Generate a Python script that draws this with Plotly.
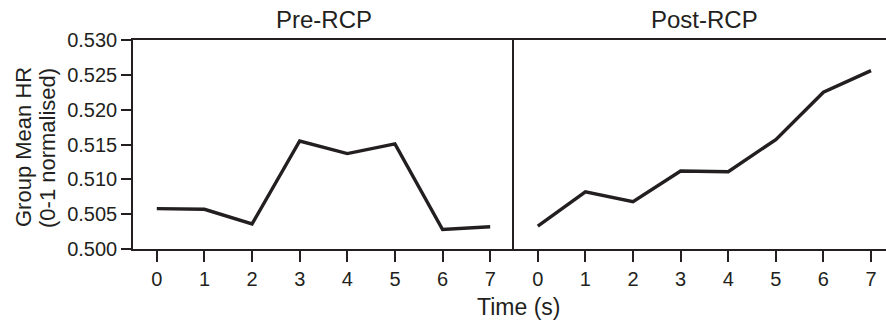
import plotly.graph_objects as go

time_ticks = [0, 1, 2, 3, 4, 5, 6, 7]
pre_rcp = [0.5058, 0.5057, 0.5036, 0.5155, 0.5137, 0.5151, 0.5028, 0.5032]
post_rcp = [0.5033, 0.5082, 0.5068, 0.5112, 0.5111, 0.5157, 0.5225, 0.5256]
y_ticks = [0.500, 0.505, 0.510, 0.515, 0.520, 0.525, 0.530]
panel_titles = ["Pre-RCP", "Post-RCP"]
y_title_lines = ["Group Mean HR", "(0-1 normalised)"]

INK = "#231f20"
FONT = "Liberation Sans, Arial, sans-serif"

W, H = 886, 320
ML, MR, MT, MB = 133, 0, 40, 71
plot_w = W - ML - MR
plot_h = H - MT - MB
split = 381 / plot_w

fig = go.Figure()
fig.add_trace(go.Scatter(x=time_ticks, y=pre_rcp, mode="lines",
                         line=dict(color=INK, width=3.4), xaxis="x", yaxis="y",
                         showlegend=False))
fig.add_trace(go.Scatter(x=time_ticks, y=post_rcp, mode="lines",
                         line=dict(color=INK, width=3.4), xaxis="x2", yaxis="y2",
                         showlegend=False))

xcommon = dict(
    tickmode="array", tickvals=time_ticks, ticktext=[str(t) for t in time_ticks],
    ticks="outside", ticklen=11, tickwidth=1.5, tickcolor=INK,
    showline=True, linecolor=INK, linewidth=1.5, mirror=True,
    showgrid=False, zeroline=False,
    tickfont=dict(family=FONT, size=20, color=INK),
)

def px_x(p):
    return (p - ML) / plot_w

def px_y(p):
    return (H - MB - p) / plot_h

fig.update_layout(
    width=W, height=H,
    margin=dict(l=ML, r=MR, t=MT, b=MB),
    plot_bgcolor="white", paper_bgcolor="white",
    xaxis=dict(domain=[0, split], range=[-0.5, 7.5], **xcommon),
    xaxis2=dict(domain=[split, 1], range=[-0.5, 7.315], anchor="y2", **xcommon),
    yaxis=dict(range=[0.5, 0.53], tickmode="array", tickvals=y_ticks,
               ticktext=[f"{v:.3f}" for v in y_ticks],
               ticks="outside", ticklen=10, tickwidth=1.5, tickcolor=INK,
               showline=True, linecolor=INK, linewidth=1.5,
               showgrid=False, zeroline=False,
               tickfont=dict(family=FONT, size=20, color=INK)),
    yaxis2=dict(range=[0.5, 0.53], anchor="x2", showline=True, linecolor=INK,
                linewidth=1.5, showticklabels=False, ticks="",
                showgrid=False, zeroline=False),
    annotations=[
        dict(text=panel_titles[0], xref="paper", yref="paper",
             x=split / 2, y=px_y(20), yanchor="middle", xanchor="center",
             showarrow=False, font=dict(family=FONT, size=24, color=INK)),
        dict(text=panel_titles[1], xref="paper", yref="paper",
             x=px_x(704), y=px_y(20), yanchor="middle", xanchor="center",
             showarrow=False, font=dict(family=FONT, size=24, color=INK)),
        dict(text="Time (s)", xref="paper", yref="paper",
             x=px_x(518), y=px_y(307), yanchor="middle", xanchor="center",
             showarrow=False, font=dict(family=FONT, size=23, color=INK)),
        dict(text=y_title_lines[0], xref="paper", yref="paper",
             x=px_x(23), y=px_y(147), xanchor="center", yanchor="middle",
             textangle=-90, showarrow=False,
             font=dict(family=FONT, size=22, color=INK)),
        dict(text=y_title_lines[1], xref="paper", yref="paper",
             x=px_x(47), y=px_y(148), xanchor="center", yanchor="middle",
             textangle=-90, showarrow=False,
             font=dict(family=FONT, size=22, color=INK)),
    ],
)

fig.write_html("out.html")
